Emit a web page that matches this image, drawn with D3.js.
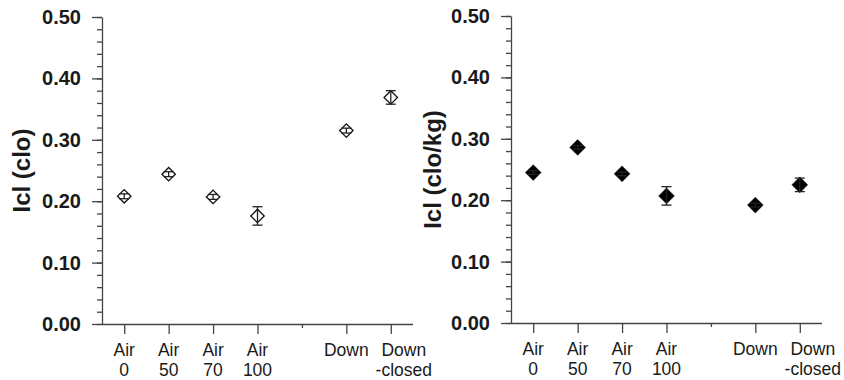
<!DOCTYPE html>
<html>
<head>
<meta charset="utf-8">
<script src="https://cdn.jsdelivr.net/npm/d3@7"></script>
<style>
  body { margin: 0; background: #fff; }
  svg { display: block; font-family: "Liberation Sans", Arial, sans-serif; }
</style>
</head>
<body>
<div id="container"></div>
<script>
let w = 844;
let h = 380;

// x slots, the 5th one is an empty gap between the Air and Down groups
let slots = ["Air 0", "Air 50", "Air 70", "Air 100", "gap", "Down", "Down-closed"];
let labelTop = ["Air", "Air", "Air", "Air", "", "Down", "Down"];
let labelBottom = ["0", "50", "70", "100", "", "", "-closed"];
// the last label block sits a bit right of its tick in the original
let labelShift = [0, 0, 0, 0, 0, 0, 13];

// measured garments
let garments = ["Air 0", "Air 50", "Air 70", "Air 100", "Down", "Down-closed"];
let iclClo = [0.208, 0.244, 0.207, 0.176, 0.315, 0.369];
let iclCloErr = [0.004, 0.004, 0.004, 0.015, 0.004, 0.011];
let iclCloKg = [0.245, 0.286, 0.243, 0.207, 0.192, 0.225];
let iclCloKgErr = [0.003, 0.003, 0.003, 0.015, 0.003, 0.011];

let yTicks = [0, 0.1, 0.2, 0.3, 0.4, 0.5];

let viz = d3.select("#container")
  .append("svg")
    .attr("width", w)
    .attr("height", h);

function drawPanel(opts){
  let g = viz.append("g");
  let xScale = d3.scalePoint().domain(slots).range([opts.left, opts.right]).padding(0.5);
  let yScale = d3.scaleLinear().domain([0, 0.5]).range([opts.bottom, opts.top]);

  // minor ticks
  let minor = g.append("g")
    .attr("transform", "translate(" + opts.left + ",0)")
    .call(d3.axisLeft(yScale).tickValues(d3.range(0, 0.501, 0.02)).tickSize(5).tickSizeOuter(0).tickFormat(""));
  minor.select(".domain").remove();

  // major ticks and labels
  let yAxis = g.append("g")
    .attr("transform", "translate(" + opts.left + ",0)")
    .call(d3.axisLeft(yScale).tickValues(yTicks).tickSize(10).tickSizeOuter(0).tickPadding(11).tickFormat(d3.format(".2f")));
  yAxis.selectAll("text")
    .attr("font-size", 20)
    .attr("font-weight", "bold")
    .attr("font-family", "Liberation Sans, Arial, sans-serif")
    .attr("fill", "#1a1a1a");

  let xAxis = g.append("g")
    .attr("transform", "translate(0," + opts.bottom + ")")
    .call(d3.axisBottom(xScale).tickSize(10).tickSizeOuter(0).tickFormat(""));
  xAxis.select(".domain").attr("d", "M" + opts.left + ",0.5H" + opts.right);
  xAxis.selectAll(".tick line").attr("y2", (d) => d == "gap" ? 4 : 10);

  g.selectAll(".domain, .tick line").attr("stroke", "#444").attr("stroke-width", 1.3);

  // two line category labels
  let lab = g.append("g").attr("font-size", 17.5).attr("fill", "#1a1a1a").attr("text-anchor", "middle");
  slots.forEach((s, i) => {
    lab.append("text").attr("x", xScale(s) + labelShift[i]).attr("y", opts.bottom + 32).text(labelTop[i]);
    lab.append("text").attr("x", xScale(s) + labelShift[i]).attr("y", opts.bottom + 52).text(labelBottom[i]);
  });

  // y title
  g.append("text")
    .attr("transform", "translate(" + (opts.left - opts.titleOffset) + "," + ((opts.top + opts.bottom) / 2) + ") rotate(-90)")
    .attr("text-anchor", "middle")
    .attr("dominant-baseline", "central")
    .attr("font-size", 24)
    .attr("font-weight", "bold")
    .attr("fill", "#1a1a1a")
    .text(opts.title);

  let data = garments.map((name, i) => ({name: name, v: opts.values[i], e: opts.errors[i]}));
  let diamond = d3.symbol().type(d3.symbolSquare).size(opts.markerSize);

  let pts = g.selectAll(".pt").data(data).enter()
    .append("g")
    .attr("class", "pt")
    .attr("transform", (d) => "translate(" + xScale(d.name) + "," + yScale(d.v) + ")");

  pts.append("path")
    .attr("d", diamond)
    .attr("transform", "rotate(45)")
    .attr("fill", opts.filled ? "#000" : "#fff")
    .attr("stroke", "#111")
    .attr("stroke-width", opts.filled ? 0.5 : 1.3);

  // error bars
  let eb = pts.append("g").attr("stroke", "#222").attr("stroke-width", 1.3);
  eb.append("line")
    .attr("x1", 0).attr("x2", 0)
    .attr("y1", (d) => yScale(d.v + d.e) - yScale(d.v))
    .attr("y2", (d) => yScale(d.v - d.e) - yScale(d.v));
  eb.append("line")
    .attr("x1", -5).attr("x2", 5)
    .attr("y1", (d) => yScale(d.v + d.e) - yScale(d.v))
    .attr("y2", (d) => yScale(d.v + d.e) - yScale(d.v));
  eb.append("line")
    .attr("x1", -5).attr("x2", 5)
    .attr("y1", (d) => yScale(d.v - d.e) - yScale(d.v))
    .attr("y2", (d) => yScale(d.v - d.e) - yScale(d.v));
}

drawPanel({left: 102, right: 413, top: 17, bottom: 324, titleOffset: 81,
  title: "Icl (clo)", values: iclClo, errors: iclCloErr, filled: false, markerSize: 90});
drawPanel({left: 511, right: 822, top: 16, bottom: 323, titleOffset: 79,
  title: "Icl (clo/kg)", values: iclCloKg, errors: iclCloKgErr, filled: true, markerSize: 125});
</script>
</body>
</html>
